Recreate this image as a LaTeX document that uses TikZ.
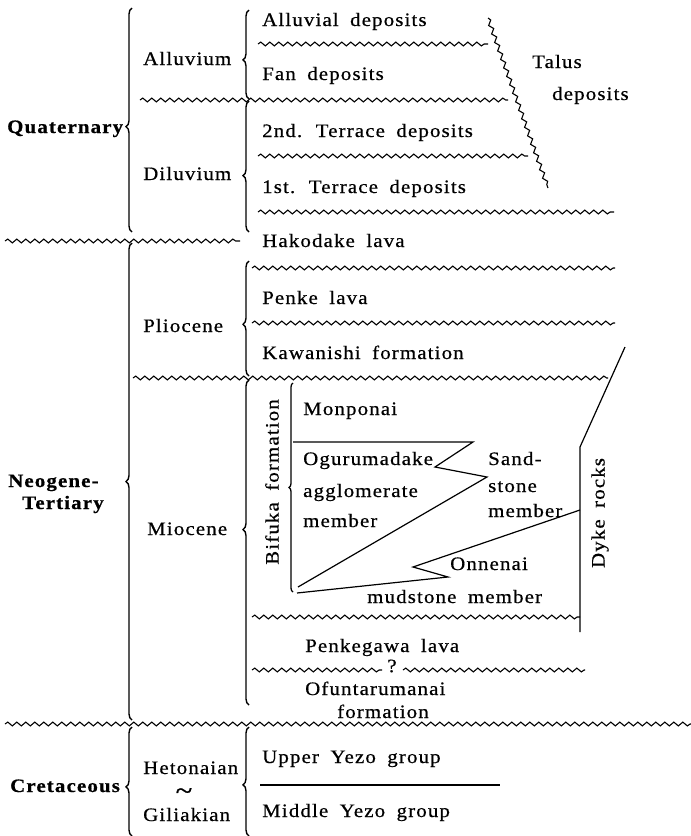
\documentclass[tikz,border=0pt]{standalone}
\usepackage{fontspec}
\setmainfont{Liberation Serif}[FakeStretch=1.1, LetterSpace=6, WordSpace=1.8, FakeBold=0.6]
\usetikzlibrary{decorations.pathmorphing,decorations.pathreplacing}
\tikzset{
  lbl/.style={anchor=base west, inner sep=0pt, font=\fontsize{19}{22}\selectfont},
  blbl/.style={lbl, font=\fontsize{19}{22}\selectfont\bfseries},
  wavy/.style={line width=1.1pt, decorate, decoration={snake, segment length=9pt, amplitude=1.9pt}},
  bigbrace/.style={line width=1.4pt, decorate, decoration={brace, amplitude=6pt, aspect=#1}},
  smallbrace/.style={line width=1.3pt, decorate, decoration={brace, amplitude=4pt, aspect=#1}},
  plain/.style={line width=1.2pt, line join=miter}
}
\begin{document}
\begin{tikzpicture}[x=1pt,y=-1pt]
\useasboundingbox (0,0) rectangle (691,836);

% ---------- coordinates ----------
\coordinate (w1a) at (258,44);  \coordinate (w1b) at (488,44);
\coordinate (w2a) at (140,100); \coordinate (w2b) at (508,100);
\coordinate (w3a) at (258,156); \coordinate (w3b) at (528,156);
\coordinate (w4a) at (258,212); \coordinate (w4b) at (614,212);
\coordinate (w5a) at (5,241);   \coordinate (w5b) at (240,241);
\coordinate (w6a) at (252,268); \coordinate (w6b) at (615,268);
\coordinate (w7a) at (252,323); \coordinate (w7b) at (615,323);
\coordinate (w8a) at (133,378); \coordinate (w8b) at (608,378);
\coordinate (w9a) at (252,617); \coordinate (w9b) at (580,617);
\coordinate (wqa) at (252,670); \coordinate (wqb) at (382,670);
\coordinate (wqc) at (403,670); \coordinate (wqd) at (585,670);
\coordinate (wba) at (5,724);   \coordinate (wbb) at (691,724);
\coordinate (ta) at (488,18);   \coordinate (tb) at (548,188);
\coordinate (ya) at (260,785);  \coordinate (yb) at (500,785);

% zigzags
\coordinate (z1) at (293,442); \coordinate (z2) at (473,442);
\coordinate (z3) at (435,467); \coordinate (z4) at (487,477);
\coordinate (z5) at (298,587);
\coordinate (m1) at (297,593); \coordinate (m2) at (448,577);
\coordinate (m3) at (413,567); \coordinate (m4) at (580,510);
% dyke
\coordinate (d1) at (625,347); \coordinate (d2) at (580,447);
\coordinate (d3) at (580,632);

% ---------- braces ----------
\draw[bigbrace=0.47]  (132,232) -- (132,8);
\draw[bigbrace=0.50]  (132,720) -- (132,243);
\draw[bigbrace=0.45]  (132,836) -- (132,727);
\draw[bigbrace=0.44]  (249,99)  -- (249,10);
\draw[bigbrace=0.43]  (249,232) -- (249,101);
\draw[bigbrace=0.45]  (249,376) -- (249,261);
\draw[bigbrace=0.54]  (249,705) -- (249,380);
\draw[bigbrace=0.47]  (249,836) -- (249,727);
\draw[smallbrace=0.50] (293,592) -- (293,383);

% ---------- wavy boundaries ----------
\draw[wavy] (w1a) -- (w1b);
\draw[wavy] (w2a) -- (w2b);
\draw[wavy] (w3a) -- (w3b);
\draw[wavy] (w4a) -- (w4b);
\draw[wavy] (w5a) -- (w5b);
\draw[wavy] (w6a) -- (w6b);
\draw[wavy] (w7a) -- (w7b);
\draw[wavy] (w8a) -- (w8b);
\draw[wavy] (w9a) -- (w9b);
\draw[wavy] (wqa) -- (wqb);
\draw[wavy] (wqc) -- (wqd);
\draw[wavy] (wba) -- (wbb);
\draw[wavy] (ta) -- (tb);
\draw[plain] (ya) -- (yb);

% ---------- facies lines ----------
\draw[plain] (z1) -- (z2) -- (z3) -- (z4) -- (z5);
\draw[plain] (m1) -- (m2) -- (m3) -- (m4);
\draw[plain] (d1) -- (d2) -- (d3);

% ---------- labels ----------
\node[blbl] (quat) at (7,133) {Quaternary};
\node[blbl] (neo1) at (8,487) {Neogene-};
\node[blbl] (neo2) at (22,509) {Tertiary};
\node[blbl] (cret) at (10,792) {Cretaceous};

\node[lbl] (allu) at (143,65)  {Alluvium};
\node[lbl] (dilu) at (143,180) {Diluvium};
\node[lbl] (plio) at (143,332) {Pliocene};
\node[lbl] (mioc) at (147,535) {Miocene};
\node[lbl] (heto) at (143,774) {Hetonaian};
\node[lbl, anchor=center, font=\fontsize{28}{30}\selectfont] (tild) at (184,794) {\char"007E};
\node[lbl] (gili) at (143,821) {Giliakian};

\node[lbl] (alld) at (262,26)  {Alluvial deposits};
\node[lbl] (fand) at (262,80)  {Fan deposits};
\node[lbl] (ter2) at (262,137) {2nd. Terrace deposits};
\node[lbl] (ter1) at (262,193) {1st. Terrace deposits};
\node[lbl] (talu) at (532,68)  {Talus};
\node[lbl] (tald) at (552,100) {deposits};
\node[lbl] (hako) at (262,247) {Hakodake lava};
\node[lbl] (penk) at (262,304) {Penke lava};
\node[lbl] (kawa) at (262,359) {Kawanishi formation};
\node[lbl] (monp) at (303,415) {Monponai};
\node[lbl] (ogu1) at (303,465) {Ogurumadake};
\node[lbl] (ogu2) at (303,497) {agglomerate};
\node[lbl] (ogu3) at (303,527) {member};
\node[lbl] (san1) at (488,465) {Sand-};
\node[lbl] (san2) at (488,492) {stone};
\node[lbl] (san3) at (488,517) {member};
\node[lbl] (onn1) at (450,570) {Onnenai};
\node[lbl] (onn2) at (367,603) {mudstone member};
\node[lbl, anchor=center, rotate=90] (bifu) at (272,482) {Bifuka formation};
\node[lbl, anchor=center, rotate=90] (dyke) at (600,513) {Dyke rocks};
\node[lbl] (pkgw) at (305,652) {Penkegawa lava};
\node[lbl, anchor=center] (ques) at (392,666) {?};
\node[lbl] (ofu1) at (305,695) {Ofuntarumanai};
\node[lbl] (ofu2) at (337,718) {formation};
\node[lbl] (upy) at (262,763) {Upper Yezo group};
\node[lbl] (mdy) at (262,817) {Middle Yezo group};
\end{tikzpicture}
\end{document}
